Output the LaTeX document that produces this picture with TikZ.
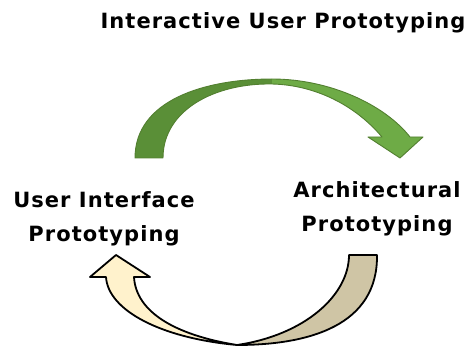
\documentclass[tikz,border=0pt]{standalone}
\usepackage{fontspec}
\setmainfont[LetterSpace=5]{DejaVu Sans}
\usepackage{tikz}
\usetikzlibrary{positioning}
\definecolor{leafdark}{HTML}{5A8F37}
\definecolor{leaflight}{HTML}{6EAB46}
\definecolor{leafedge}{HTML}{527F30}
\definecolor{creamfill}{HTML}{FFF2CC}
\definecolor{tanfill}{HTML}{CFC5A5}

\begin{document}
\begin{tikzpicture}[
  x=1pt, y=-1pt,
  lbl/.style={font=\fontsize{21}{34}\selectfont\bfseries, align=center, inner sep=0pt},
  greenedge/.style={draw=leafedge, line width=0.9pt, line join=round},
  bentarr/.style={draw=black, line width=1.8pt, line join=round}
]
\useasboundingbox (0,0) rectangle (471,347);

\node[lbl, anchor=base] (title) at (283,29) {Interactive User Prototyping};
\node[lbl, anchor=base] (ui) at (104,242) {User Interface\\Prototyping};
\node[lbl, anchor=base] (arch) at (377,232) {Architectural\\Prototyping};

% top arrow: back half, front half, outline
\fill[leafdark] (135,158) .. controls (135,100) and (205,79) .. (272,79)
  -- (272,84) .. controls (215,83) and (163,110) .. (163,158) -- cycle;
\fill[leaflight] (272,79) .. controls (330,79) and (385,105) .. (410,137)
  -- (423,137) -- (400,158) -- (368,137) -- (382,137)
  .. controls (355,105) and (315,85) .. (272,84) -- cycle;
\draw[greenedge] (135,158) .. controls (135,100) and (205,79) .. (272,79)
  .. controls (330,79) and (385,105) .. (410,137)
  -- (423,137) -- (400,158) -- (368,137) -- (382,137)
  .. controls (355,105) and (315,85) .. (272,84)
  .. controls (215,83) and (163,110) .. (163,158) -- cycle;

% bottom arrow, back half
\path[bentarr, fill=tanfill] (349,255) -- (377,255)
  .. controls (378,325) and (310,345) .. (237,345)
  .. controls (305,335) and (349,295) .. (349,255) -- cycle;
% bottom arrow, front half
\path[bentarr, fill=creamfill] (237,345)
  .. controls (160,338) and (108,310) .. (106,277)
  -- (90,277) -- (116,255) -- (150,277) -- (134,277)
  .. controls (136,312) and (175,335) .. (237,345) -- cycle;
\end{tikzpicture}
\end{document}
